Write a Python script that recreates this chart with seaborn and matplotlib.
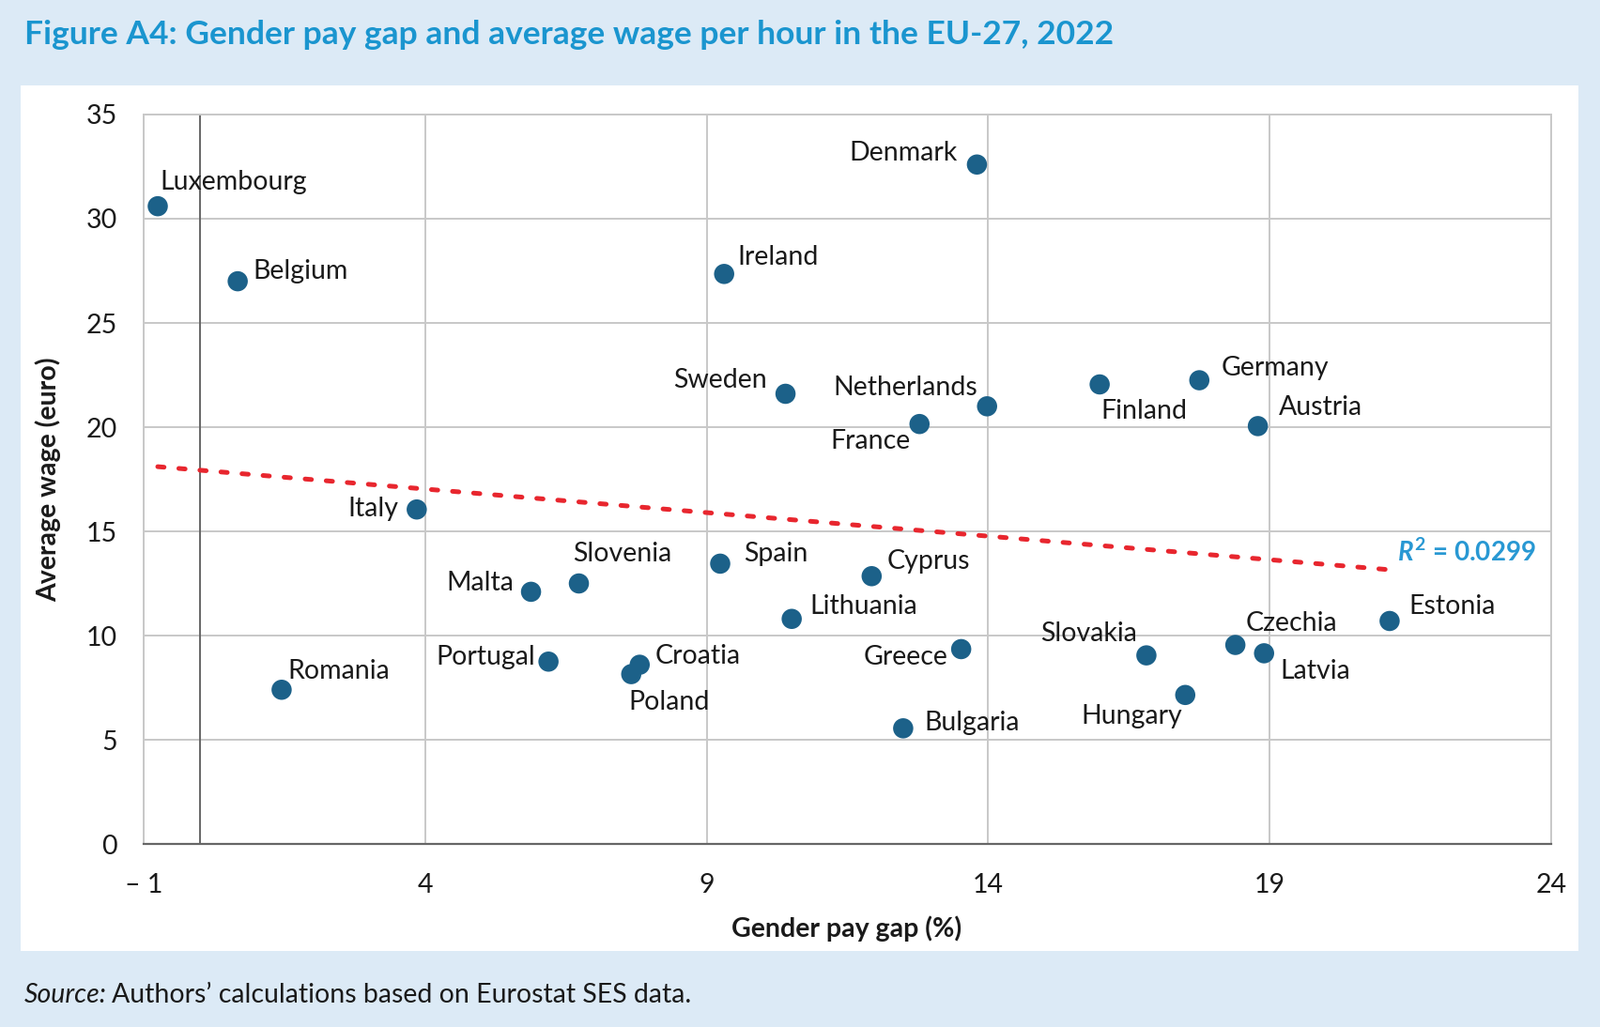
import numpy as np
import pandas as pd
import seaborn as sns
import matplotlib.pyplot as plt
from matplotlib.patches import Rectangle

# data
countries = ['Luxembourg', 'Belgium', 'Romania', 'Italy', 'Malta', 'Slovenia', 'Portugal',
             'Poland', 'Croatia', 'Spain', 'Ireland', 'Sweden', 'Lithuania', 'Cyprus',
             'Bulgaria', 'France', 'Greece', 'Denmark', 'Netherlands', 'Finland', 'Slovakia',
             'Hungary', 'Germany', 'Czechia', 'Austria', 'Latvia', 'Estonia']
pay_gap = [-0.75, 0.67, 1.45, 3.85, 5.88, 6.73, 6.19,
           7.66, 7.81, 9.24, 9.31, 10.40, 10.51, 11.93,
           12.49, 12.78, 13.52, 13.80, 13.98, 15.98, 16.81,
           17.50, 17.75, 18.39, 18.79, 18.90, 21.13]
avg_wage = [30.6, 27.0, 7.4, 16.05, 12.1, 12.5, 8.75,
            8.15, 8.6, 13.45, 27.35, 21.6, 10.8, 12.85,
            5.55, 20.15, 9.35, 32.6, 21.0, 22.05, 9.05,
            7.15, 22.25, 9.55, 20.05, 9.15, 10.7]
x_ticks = [-1, 4, 9, 14, 19, 24]
x_ticklabels = ['\u2013 1', '4', '9', '14', '19', '24']
y_ticks = [0, 5, 10, 15, 20, 25, 30, 35]
r2_text = '= 0.0299'

df = pd.DataFrame({'country': countries, 'gap': pay_gap, 'wage': avg_wage})

# label offsets (points) and alignment per country
label_pos = {
    'Luxembourg': (2, 20, 'left'), 'Belgium': (12, 9, 'left'), 'Ireland': (10, 14, 'left'),
    'Denmark': (-15, 10, 'right'), 'Sweden': (-14, 12, 'right'), 'Netherlands': (-7, 16, 'right'),
    'France': (-7, -12, 'right'), 'Finland': (34, -19, 'center'), 'Germany': (17, 11, 'left'),
    'Austria': (16, 16, 'left'), 'Italy': (-14, 2, 'right'), 'Slovenia': (33, 24, 'center'),
    'Malta': (-13, 8, 'right'), 'Spain': (18, 9, 'left'), 'Cyprus': (12, 13, 'left'),
    'Lithuania': (14, 11, 'left'), 'Estonia': (15, 13, 'left'), 'Czechia': (8, 18, 'left'),
    'Slovakia': (-7, 18, 'right'), 'Latvia': (12, -12, 'left'), 'Hungary': (-2, -15, 'right'),
    'Greece': (-10, -5, 'right'), 'Bulgaria': (16, 6, 'left'), 'Romania': (5, 16, 'left'),
    'Portugal': (-10, 5, 'right'), 'Croatia': (12, 8, 'left'), 'Poland': (-2, -20, 'left'),
}

sns.set_style('white')
plt.rcParams['font.family'] = ['Lato', 'DejaVu Sans']
plt.rcParams['mathtext.fontset'] = 'custom'
plt.rcParams['mathtext.it'] = 'Lato:italic:bold'
plt.rcParams['mathtext.rm'] = 'Lato:bold'

BG = '#dceaf6'
TEXT = '#1a1a1a'
FS = 20.5
fig = plt.figure(figsize=(17.04, 10.94), dpi=100, facecolor=BG)

# white panel behind chart
fig.patches.append(Rectangle((0.0127, 0.074), 0.9738, 0.8428, transform=fig.transFigure,
                             facecolor='white', edgecolor='none', zorder=-5))

ax = fig.add_axes([0.0898, 0.1782, 0.8797, 0.7103])
ax.set_facecolor('white')

# trend line
sns.regplot(data=df, x='gap', y='wage', scatter=False, ci=None, ax=ax,
            line_kws=dict(color='#e8262e', lw=3.6, linestyle=(0, (1.35, 3.15)),
                          dash_capstyle='round', zorder=3))

sns.scatterplot(data=df, x='gap', y='wage', s=240, color='#1c6189', edgecolor='none',
                ax=ax, zorder=4)

for _, row in df.iterrows():
    dx, dy, ha = label_pos[row['country']]
    ax.annotate(row['country'], (row['gap'], row['wage']), xytext=(dx, dy - 1.5),
                textcoords='offset points', ha=ha, va='center', fontsize=FS, color=TEXT)

ax.text(21.26, 14.0, r'$R^2$ ' + r2_text, color='#2898d3', fontsize=FS - 0.5,
        fontweight='bold', ha='left', va='center')

ax.set_xlim(-1, 24)
ax.set_ylim(0, 35)
ax.set_xticks(x_ticks)
ax.set_xticklabels(x_ticklabels)
ax.set_yticks(y_ticks)
ax.grid(True, color='#c8c8c8', lw=1.4)
ax.axvline(0, color='#666666', lw=1.4, zorder=2)
for s in ['left', 'right', 'top']:
    ax.spines[s].set_color('#c8c8c8')
    ax.spines[s].set_linewidth(1.4)
ax.spines['bottom'].set_color('#666666')
ax.spines['bottom'].set_linewidth(1.6)
ax.tick_params(axis='x', length=0, pad=22, labelsize=FS, labelcolor=TEXT)
ax.tick_params(axis='y', length=0, pad=20, labelsize=FS, labelcolor=TEXT)
ax.set_xlabel('')
ax.set_ylabel('')

fig.text(0.529, 0.096, 'Gender pay gap (%)', ha='center', va='center', fontsize=FS,
         fontweight='bold', color=TEXT)
fig.text(0.030, 0.5335, 'Average wage (euro)', ha='center', va='center', rotation=90,
         fontsize=FS, fontweight='bold', color=TEXT)

fig.text(0.0153, 0.966, 'Figure A4: Gender pay gap and average wage per hour in the EU-27, 2022',
         ha='left', va='center', fontsize=25.5, fontweight='bold', color='#1a95cf')
src = fig.text(0.0153, 0.031, 'Source:', ha='left', va='center', fontsize=FS, style='italic',
               color=TEXT)
bb = src.get_window_extent(renderer=fig.canvas.get_renderer())
fig.text(bb.x1 / fig.bbox.width + 0.003, 0.031,
         'Authors\u2019 calculations based on Eurostat SES data.',
         ha='left', va='center', fontsize=FS, color=TEXT)

fig.savefig('out.png', dpi=100, facecolor=BG)
